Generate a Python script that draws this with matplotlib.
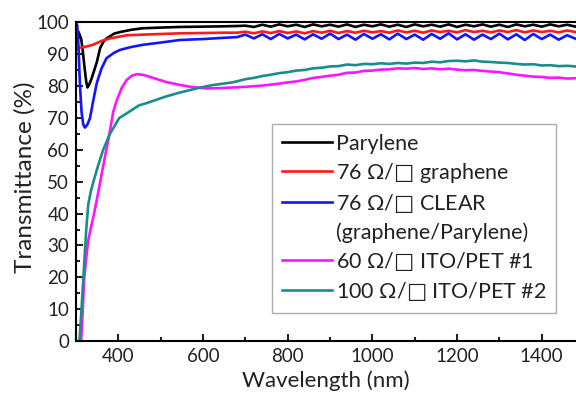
import matplotlib
matplotlib.use("Agg")
import matplotlib.pyplot as plt
from matplotlib.lines import Line2D
from matplotlib.ticker import MultipleLocator

plt.rcParams["font.family"] = ["Lato", "DejaVu Sans"]
plt.rcParams["mathtext.fontset"] = "dejavusans"

# --------------------------
# data
# --------------------------
tail_wl = [700, 720, 740, 760, 780, 800, 820, 840, 860, 880, 900, 920, 940, 960, 980,
           1000, 1020, 1040, 1060, 1080, 1100, 1120, 1140, 1160, 1180, 1200, 1220, 1240,
           1260, 1280, 1300, 1320, 1340, 1360, 1380, 1400, 1420, 1440, 1460, 1480]

parylene_wl = [300, 306, 312, 316, 320, 324, 327, 331, 337, 343, 349, 357, 365, 372, 390,
               404, 430, 458, 500, 545, 600, 650, 680] + tail_wl
parylene_t = [98.0, 97.0, 95.0, 91.0, 86.0, 81.5, 79.6, 80.5, 82.5, 85.0, 87.5, 92.0, 94.0,
              95.0, 96.5, 97.0, 97.7, 98.2, 98.4, 98.6, 98.7, 98.8, 98.9,
              99.0, 98.6, 99.3, 98.7, 99.4, 98.8, 99.3, 98.6, 99.4, 98.8,
              99.3, 98.7, 99.4, 98.6, 99.3, 98.8, 99.4, 98.7, 99.3, 98.6,
              99.4, 98.8, 99.3, 98.7, 99.4, 98.6, 99.3, 98.8, 99.4, 98.7,
              99.3, 98.6, 99.4, 98.8, 99.3, 98.7, 99.4, 98.8, 99.3, 98.7]

graphene_wl = [300, 305, 320, 340, 360, 380, 420, 480, 545, 600, 650, 680] + tail_wl
graphene_t = [91.5, 92.0, 92.3, 93.0, 94.2, 95.0, 96.0, 96.3, 96.6, 96.7, 96.8, 96.8,
              97.1, 96.6, 97.2, 96.7, 97.3, 96.7, 97.2, 96.6, 97.3, 96.8, 97.4, 96.7, 97.3,
              96.8, 97.4, 96.9, 97.3, 96.8, 97.5, 96.9, 97.4, 96.8, 97.5, 97.0, 97.4, 96.9,
              97.6, 97.0, 97.4, 96.9, 97.5, 97.0, 97.6, 96.9, 97.5, 97.0, 97.4, 96.9, 97.5, 97.0]

clear_wl = [300, 303, 306, 309, 313, 317, 321, 327, 333, 340, 349, 360, 372, 390, 404, 430,
            458, 500, 545, 600, 650, 680] + tail_wl
clear_t = [100.0, 99.0, 92.0, 81.0, 72.0, 68.0, 67.0, 68.0, 70.0, 75.0, 81.0, 85.5, 88.8,
           90.5, 91.4, 92.3, 93.0, 93.7, 94.5, 94.8, 95.2, 95.4,
           96.2, 95.0, 96.3, 94.8, 96.4, 95.0, 96.2, 94.7, 96.3, 94.9, 96.5, 94.8, 96.2,
           94.6, 96.4, 94.9, 96.3, 94.7, 96.5, 94.8, 96.2, 94.6, 96.4, 94.9, 96.6, 94.7,
           96.3, 94.6, 96.2, 94.8, 96.5, 94.7, 96.3, 94.5, 96.4, 94.8, 96.2, 94.6, 96.0, 94.9]

ito1_wl = [312, 316, 319, 324, 329, 335, 341, 350, 361, 370, 376, 380, 388, 396, 408, 420,
           432, 444, 460, 482, 513, 545, 575, 608, 640, 670] + tail_wl
ito1_t = [0.0, 10.0, 19.0, 26.0, 31.7, 35.5, 39.0, 45.0, 52.7, 59.0, 63.0, 66.0, 72.0,
          75.5, 79.5, 82.0, 83.3, 83.8, 83.5, 82.6, 81.3, 80.4, 79.7, 79.3, 79.4, 79.6,
          79.8, 80.0, 80.2, 80.5, 80.8, 81.2, 81.5, 82.0, 82.6, 82.9, 83.3, 83.6, 84.2,
          84.3, 84.8, 84.9, 85.2, 85.3, 85.6, 85.5, 85.7, 85.4, 85.6, 85.3, 85.5, 85.2,
          85.0, 85.1, 84.8, 84.6, 84.4, 84.0, 83.6, 83.3, 83.0, 82.9, 82.6, 82.7, 82.4, 82.5]

ito2_wl = [308, 312, 317, 324, 329, 335, 341, 352, 364, 380, 402, 420, 449, 467, 513, 545,
           591, 620, 670] + tail_wl
ito2_t = [0.0, 8.0, 19.0, 34.8, 43.0, 47.0, 50.0, 55.0, 60.0, 65.0, 70.0, 71.5, 74.0, 74.7,
          76.8, 78.0, 79.5, 80.3, 81.2,
          82.2, 82.6, 83.2, 83.6, 84.1, 84.4, 84.9, 85.1, 85.6, 85.8, 86.2, 86.3, 86.8,
          86.6, 87.0, 86.9, 87.2, 87.0, 87.3, 87.1, 87.4, 87.3, 87.7, 87.5, 87.9, 88.0,
          87.8, 88.1, 87.7, 87.6, 87.4, 87.3, 87.0, 86.8, 86.9, 86.5, 86.6, 86.3, 86.4, 86.2]

labels = ["Parylene", "76 \u03a9/$\u25a1$ graphene", "76 \u03a9/$\u25a1$ CLEAR",
          "(graphene/Parylene)", "60 \u03a9/$\u25a1$ ITO/PET #1",
          "100 \u03a9/$\u25a1$ ITO/PET #2"]

# --------------------------
# plot
# --------------------------
fig = plt.figure(figsize=(5.76, 4.01), dpi=100)
ax = fig.add_axes([0.132, 0.1496, 0.868, 0.7943])

lw = 1.9
l1, = ax.plot(parylene_wl, parylene_t, color="black", lw=lw)
l2, = ax.plot(graphene_wl, graphene_t, color="#ff1a1a", lw=lw)
l3, = ax.plot(clear_wl, clear_t, color="#1414ff", lw=lw)
l4, = ax.plot(ito1_wl, ito1_t, color="#ff14ff", lw=lw)
l5, = ax.plot(ito2_wl, ito2_t, color="#1a8c8c", lw=lw)
blank = Line2D([], [], color="none")

ax.set_xlim(300, 1481)
ax.set_ylim(0, 100)
ax.spines["right"].set_visible(False)
for s in ["left", "bottom", "top"]:
    ax.spines[s].set_linewidth(1.5)

ax.xaxis.set_major_locator(MultipleLocator(200))
ax.xaxis.set_minor_locator(MultipleLocator(100))
ax.yaxis.set_major_locator(MultipleLocator(10))
ax.yaxis.set_minor_locator(MultipleLocator(5))
ax.tick_params(which="both", direction="in", top=False, right=False, width=1.5,
               labelsize=13.5, colors="#222222")
ax.tick_params(which="major", length=5, pad=5)
ax.tick_params(which="minor", length=3)

ax.set_xlabel("Wavelength (nm)", fontsize=16, color="#222222", labelpad=4)
ax.set_ylabel("Transmittance (%)", fontsize=17.5, color="#222222")
ax.yaxis.set_label_coords(-0.08, 0.515)

leg = ax.legend([l1, l2, l3, blank, l4, l5], labels, loc="upper left",
                bbox_to_anchor=(0.392, 0.681), borderaxespad=0, fontsize=15.5,
                handlelength=2.35, handletextpad=0.15, labelspacing=0.33,
                borderpad=0.45, fancybox=False, frameon=True)
leg.get_frame().set_edgecolor("#999999")
leg.get_frame().set_linewidth(1.0)
for t in leg.get_texts():
    t.set_color("#222222")

fig.savefig("out.png", dpi=100)
